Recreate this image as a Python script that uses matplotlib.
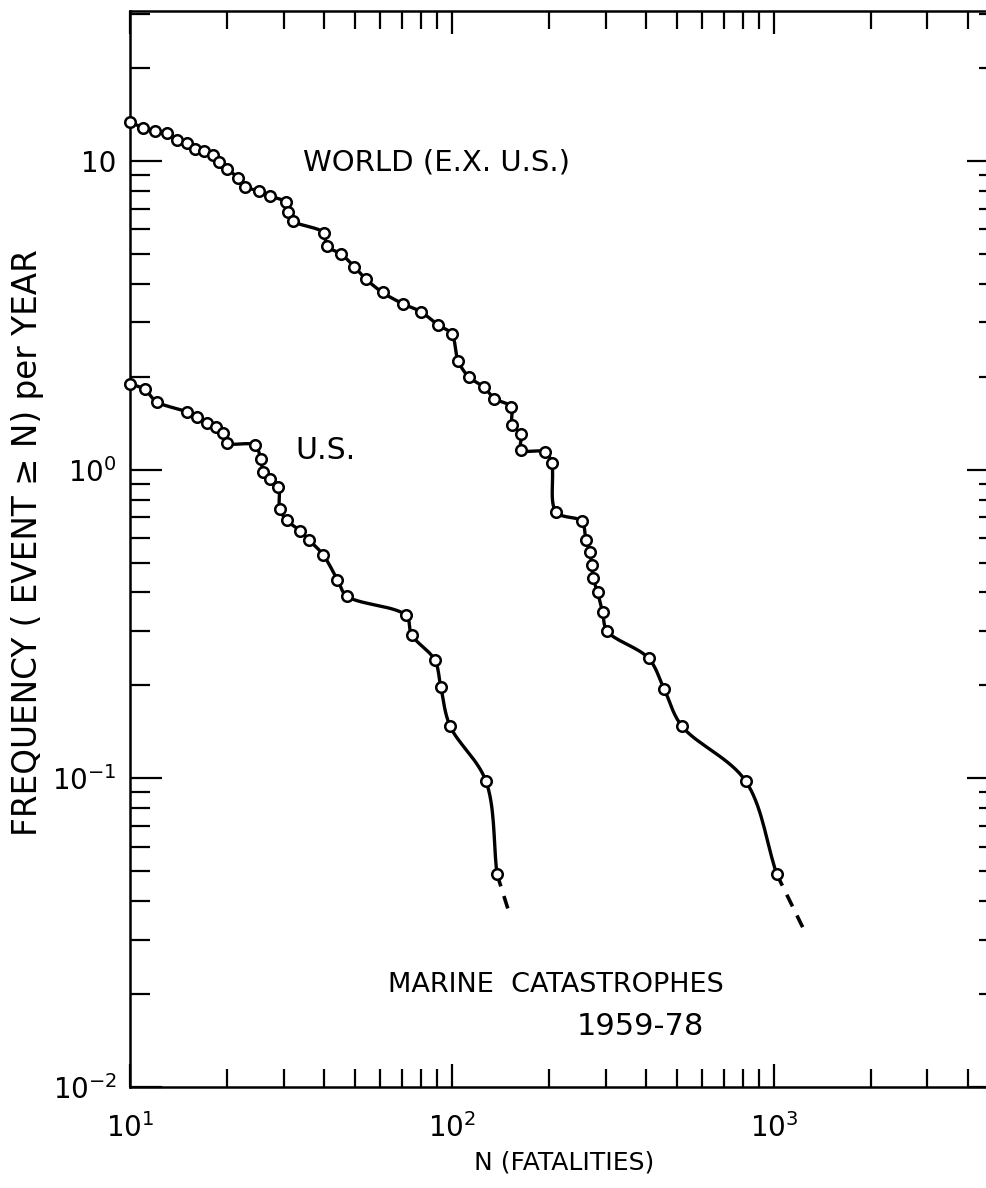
import numpy as np
import matplotlib.pyplot as plt
from matplotlib.ticker import LogLocator, FixedLocator, FixedFormatter, NullFormatter

# Frecuencia acumulada de catástrofes marinas (eventos con N o más víctimas por año)
world_n = [10, 11, 12, 13, 14, 15, 15.9, 17, 18.1, 18.9, 20, 21.7, 22.75, 25.2,
           27.2, 30.5, 31.0, 32.0, 40.0, 40.8, 45.2, 49.7, 54.0, 60.9, 70.3,
           80.0, 90.3, 99.8, 104.6, 112.7, 125.8, 135.4, 152.5, 153.9, 164,
           164, 195.2, 204, 210.4, 252.8, 260.7, 268.3, 271.6, 274.7, 283.5,
           293.8, 303.6, 408, 456, 517, 817, 1020]
world_freq = [13.4, 12.8, 12.55, 12.3, 11.7, 11.45, 10.95, 10.8, 10.45, 9.95,
              9.45, 8.8, 8.25, 8.0, 7.7, 7.35, 6.85, 6.4, 5.85, 5.3, 5.0, 4.55,
              4.15, 3.75, 3.45, 3.25, 2.95, 2.75, 2.25, 2.0, 1.85, 1.7, 1.6,
              1.4, 1.3, 1.16, 1.14, 1.05, 0.73, 0.68, 0.59, 0.54, 0.49, 0.445,
              0.4, 0.345, 0.3, 0.245, 0.195, 0.148, 0.098, 0.049]

us_n = [10, 11.1, 12.1, 15.0, 16.1, 17.4, 18.5, 19.4, 20.0, 24.4, 25.5, 25.9,
        27.2, 28.9, 29.2, 30.7, 33.7, 36.1, 39.8, 44.1, 47.1, 72.0, 74.9,
        88.4, 92.4, 98.6, 127.5, 138]
us_freq = [1.9, 1.82, 1.66, 1.54, 1.48, 1.42, 1.37, 1.31, 1.22, 1.2, 1.08,
           0.985, 0.93, 0.88, 0.745, 0.685, 0.635, 0.59, 0.53, 0.44, 0.39,
           0.337, 0.292, 0.242, 0.197, 0.148, 0.098, 0.049]

# prolongación a trazos despues del ultimo punto
world_tail_n = [1020, 1233]
world_tail_freq = [0.049, 0.0327]
us_tail_n = [138, 150.7]
us_tail_freq = [0.049, 0.0366]

y_ticks = [0.01, 0.1, 1, 10]
y_tick_labels = ['$10^{-2}$', '$10^{-1}$', '$10^{0}$', '10']


def catmull_rom(pts, n=18):
    # curva suave que pasa por todos los puntos (centripeta)
    pts = np.asarray(pts, float)
    ext = np.vstack([2 * pts[0] - pts[1], pts, 2 * pts[-1] - pts[-2]])
    out = [pts[:1]]
    for i in range(1, len(ext) - 2):
        p0, p1, p2, p3 = ext[i - 1:i + 3]
        t0 = 0.0
        t1 = t0 + max(np.hypot(*(p1 - p0)), 1e-6) ** 0.5
        t2 = t1 + max(np.hypot(*(p2 - p1)), 1e-6) ** 0.5
        t3 = t2 + max(np.hypot(*(p3 - p2)), 1e-6) ** 0.5
        t = np.linspace(t1, t2, n)[1:, None]
        a1 = (t1 - t) / (t1 - t0) * p0 + (t - t0) / (t1 - t0) * p1
        a2 = (t2 - t) / (t2 - t1) * p1 + (t - t1) / (t2 - t1) * p2
        a3 = (t3 - t) / (t3 - t2) * p2 + (t - t2) / (t3 - t2) * p3
        b1 = (t2 - t) / (t2 - t0) * a1 + (t - t0) / (t2 - t0) * a2
        b2 = (t3 - t) / (t3 - t1) * a2 + (t - t1) / (t3 - t1) * a3
        out.append((t2 - t) / (t2 - t1) * b1 + (t - t1) / (t2 - t1) * b2)
    return np.vstack(out)


plt.rcParams['font.family'] = 'DejaVu Sans'
plt.rcParams['mathtext.default'] = 'regular'

fig = plt.figure(figsize=(9.86, 11.88), dpi=100)
ax = fig.add_axes([0.1318, 0.0850, 0.8813, 0.9057])
ax.set_xscale('log')
ax.set_yscale('log')
ax.set_xlim(10, 5000)
ax.set_ylim(0.01, 30.6)

for n, f in [(world_n, world_freq), (us_n, us_freq)]:
    disp = ax.transData.transform(np.column_stack([n, f]))
    curve = ax.transData.inverted().transform(catmull_rom(disp))
    ax.plot(curve[:, 0], curve[:, 1], color='black', lw=2.4, zorder=2)
    ax.plot(n, f, linestyle='none', marker='o', ms=7.6, mew=1.8,
            mfc='white', mec='black', zorder=3, clip_on=False)

for n, f in [(world_tail_n, world_tail_freq), (us_tail_n, us_tail_freq)]:
    ax.plot(n, f, color='black', lw=2.6, linestyle=(0, (3.6, 2.8)), zorder=1)

# textos dentro del grafico
ax.text(0.199, 0.8597, 'WORLD (E.X. U.S.)', transform=ax.transAxes,
        fontsize=21, va='center', ha='left')
ax.text(0.190, 0.592, 'U.S.', transform=ax.transAxes,
        fontsize=21.5, va='center', ha='left')
ax.text(0.297, 0.0948, 'MARINE  CATASTROPHES', transform=ax.transAxes,
        fontsize=19.5, va='center', ha='left')
ax.text(0.514, 0.0558, '1959-78', transform=ax.transAxes,
        fontsize=22, va='center', ha='left')

# ejes y marcas
ax.xaxis.set_major_locator(LogLocator(base=10))
ax.xaxis.set_minor_locator(LogLocator(base=10, subs=np.arange(2, 10)))
ax.xaxis.set_minor_formatter(NullFormatter())
ax.yaxis.set_major_locator(FixedLocator(y_ticks))
ax.yaxis.set_major_formatter(FixedFormatter(y_tick_labels))
ax.yaxis.set_minor_locator(LogLocator(base=10, subs=np.arange(2, 10)))
ax.yaxis.set_minor_formatter(NullFormatter())

ax.tick_params(which='both', direction='in', top=True, right=True,
               width=1.6, labelsize=20)
ax.tick_params(axis='y', which='major', length=23, pad=9.5)
ax.tick_params(axis='y', which='minor', length=14.5)
ax.tick_params(axis='x', which='major', length=16.5, pad=19)
ax.tick_params(axis='x', which='minor', length=13)
for s in ax.spines.values():
    s.set_linewidth(1.8)

ax.set_xlabel('N (FATALITIES)', fontsize=18, va='center')
ax.xaxis.set_label_coords(0.5, -0.0697)
ax.set_ylabel('FREQUENCY ( EVENT \u2265 N) per YEAR', fontsize=23.5, va='center')
ax.yaxis.set_label_coords(-0.118, 0.506)

plt.savefig('out.png', dpi=100)
